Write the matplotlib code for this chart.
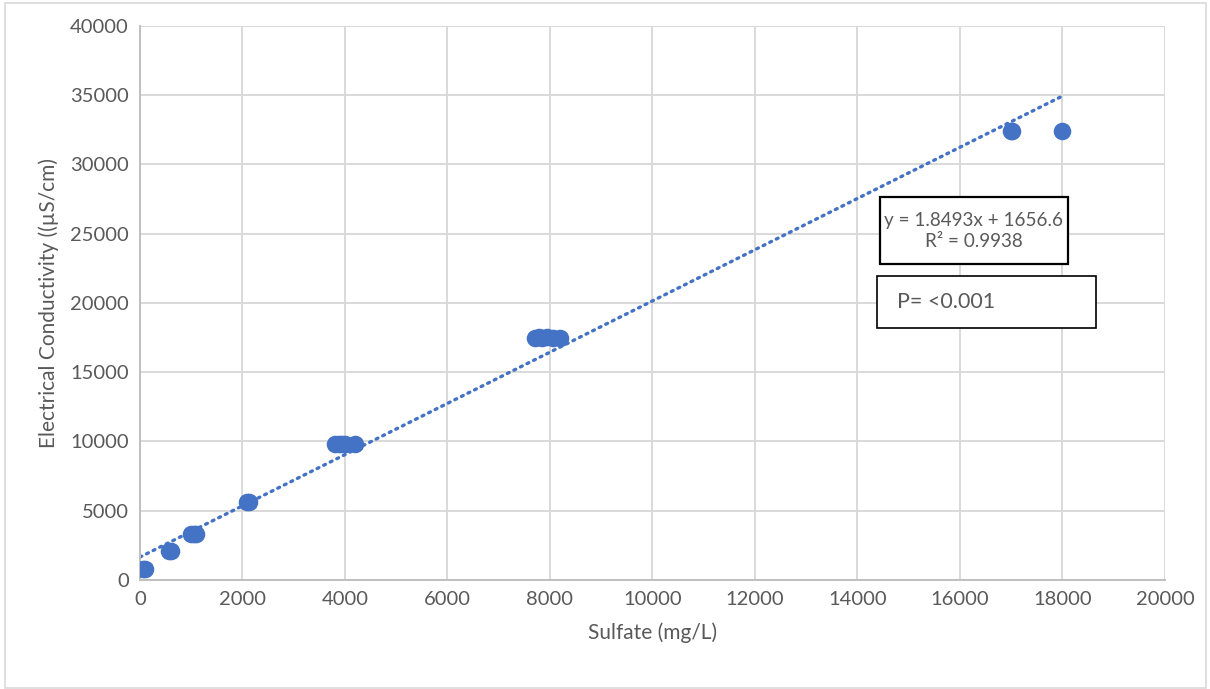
#!/usr/bin/env python3

# import modules
from matplotlib import pyplot as plt
from matplotlib.patches import Rectangle
import numpy as np

# data
sulfate = [60, 90, 560, 600, 1000, 1060, 1100, 2080, 2120,
           3800, 3880, 3950, 4000, 4200,
           7700, 7780, 7850, 7950, 8050, 8200,
           17000, 17010, 18000]
conductivity = [800, 820, 2100, 2120, 3300, 3350, 3320, 5600, 5650,
                9800, 9820, 9800, 9790, 9800,
                17500, 17520, 17500, 17510, 17500, 17490,
                32400, 32450, 32400]

slope, intercept = 1.8493, 1656.6
r_squared = 0.9938

xticks = np.arange(0, 20001, 2000)
yticks = np.arange(0, 40001, 5000)

color = '#4472C4'
grey = '#595959'
W, H = 1210, 689

plt.rcParams['font.family'] = ['Lato', 'DejaVu Sans']

# plot
fig = plt.figure(figsize=(12.1, 6.89), dpi=100)
ax = fig.add_axes([0.1157, 0.1582, 0.8471, 0.8041])

ax.scatter(sulfate, conductivity, s=160, color=color, zorder=3, linewidths=0)

xfit = np.linspace(0, max(sulfate), 200)
ax.plot(xfit, slope * xfit + intercept, linestyle=(0, (0.6, 1.6)), lw=2.4,
        color=color, dash_capstyle='round', zorder=2)

ax.set_xlim(0, 20000)
ax.set_ylim(0, 40000)
ax.set_xticks(xticks)
ax.set_yticks(yticks)
ax.grid(True, color='#d9d9d9', lw=1.4)
ax.set_axisbelow(True)
ax.tick_params(length=0, labelsize=14.5, colors=grey, pad=8)
for s in ['top', 'right']:
    ax.spines[s].set_visible(False)
for s in ['left', 'bottom']:
    ax.spines[s].set_color('#bfbfbf')
    ax.spines[s].set_linewidth(1.4)

ax.set_xlabel('Sulfate (mg/L)', fontsize=15, color=grey, labelpad=10)
ax.set_ylabel('Electrical Conductivity ((µS/cm)', fontsize=15, color=grey, labelpad=8)

# trendline annotation and p-value boxes
fig.add_artist(Rectangle((880 / W, 1 - 264 / H), 188 / W, 67 / H,
                         transform=fig.transFigure, fc='white', ec='black', lw=1.6, zorder=4))
fig.text(974 / W, 1 - 231 / H, 'y = %.4fx + %.1f\nR² = %.4f' % (slope, intercept, r_squared),
         ha='center', va='center', fontsize=13.6, color=grey, linespacing=1.3, zorder=5)
fig.add_artist(Rectangle((877 / W, 1 - 328 / H), 219 / W, 52 / H,
                         transform=fig.transFigure, fc='white', ec='black', lw=1.2, zorder=4))
fig.text(897 / W, 1 - 302 / H, 'P= <0.001', ha='left', va='center',
         fontsize=15.5, color=grey, zorder=5)

# outer chart border
fig.add_artist(Rectangle((0.004, 0.002), 0.993, 0.993, transform=fig.transFigure,
                         fill=False, ec='#d9d9d9', lw=1.2))

# write to disk
plt.savefig('out.png', dpi=100)
